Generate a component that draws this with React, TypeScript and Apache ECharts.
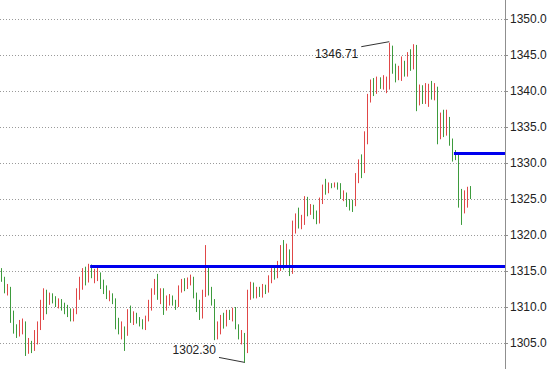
import { useEffect, useRef } from "react";
import * as echarts from "echarts";

// OHLC values (one entry per bar)
const opens = [
  1315.0, 1313.8, 1312.0, 1312.6, 1308.6, 1306.8, 1306.2, 1306.5, 1307.8, 1304.2,
  1305.0, 1304.2, 1305.0, 1307.0, 1308.5, 1312.0, 1310.5, 1311.6, 1311.2, 1310.4,
  1310.8, 1310.0, 1309.6, 1309.3, 1308.3, 1309.2, 1311.2, 1312.6, 1315.2, 1313.6,
  1315.6, 1314.4, 1314.0, 1314.6, 1313.2, 1312.6, 1311.5, 1311.7, 1311.0, 1307.6,
  1306.0, 1307.0, 1306.2, 1309.0, 1307.8, 1308.8, 1308.2, 1307.8, 1307.0, 1308.2,
  1309.8, 1312.0, 1314.2, 1311.8, 1312.4, 1309.8, 1310.6, 1311.2, 1310.6, 1310.2,
  1312.5, 1313.4, 1312.8, 1313.8, 1314.0, 1311.6, 1310.4, 1308.6, 1311.8, 1314.8,
  1312.3, 1310.9, 1306.0, 1306.5, 1308.2, 1307.5, 1308.8, 1308.5, 1309.6, 1307.2,
  1305.3, 1306.0, 1304.0, 1312.2, 1313.0, 1311.8, 1312.4, 1311.8, 1312.6, 1312.3,
  1313.8, 1314.8, 1314.2, 1315.2, 1318.8, 1316.0, 1317.8, 1315.0, 1320.5, 1323.2,
  1321.5, 1321.8, 1325.0, 1323.2, 1323.8, 1323.0, 1321.8, 1324.6, 1327.4, 1326.2,
  1326.9, 1326.8, 1327.0, 1326.9, 1325.5, 1325.6, 1324.5, 1324.6, 1324.3, 1327.6,
  1329.8, 1329.0, 1333.0, 1338.6, 1341.4, 1339.8, 1341.5, 1340.5, 1340.0, 1340.5,
  1345.8, 1343.2, 1342.0, 1341.8, 1343.6, 1342.4, 1344.6, 1343.4, 1346.0, 1338.4,
  1340.5, 1338.6, 1339.0, 1340.5, 1339.0, 1340.4, 1333.8, 1336.2, 1334.0, 1336.0,
  1333.0, 1331.6, 1331.0, 1325.6, 1323.2, 1324.0, 1326.2,
];
const closes = [
  1313.8, 1312.2, 1312.9, 1308.5, 1306.8, 1306.0, 1307.9, 1308.0, 1303.8, 1305.2,
  1304.0, 1306.5, 1307.6, 1310.5, 1312.2, 1309.4, 1311.8, 1310.8, 1310.3, 1310.9,
  1309.9, 1309.4, 1308.9, 1308.4, 1309.5, 1312.3, 1313.8, 1315.0, 1313.3, 1315.6,
  1314.3, 1315.0, 1315.2, 1312.8, 1312.3, 1311.5, 1311.9, 1310.8, 1307.3, 1306.6,
  1307.5, 1304.5, 1309.2, 1308.0, 1309.0, 1308.2, 1307.7, 1307.2, 1308.4, 1310.5,
  1312.2, 1313.2, 1311.5, 1312.2, 1309.3, 1311.2, 1311.5, 1310.6, 1309.9, 1312.6,
  1313.5, 1312.6, 1313.8, 1314.2, 1311.6, 1309.8, 1308.6, 1312.0, 1314.6, 1312.0,
  1310.6, 1305.8, 1306.8, 1308.4, 1307.4, 1309.0, 1308.4, 1309.3, 1307.4, 1306.0,
  1306.4, 1304.5, 1312.0, 1312.8, 1311.6, 1312.4, 1311.9, 1312.7, 1312.1, 1314.0,
  1315.0, 1314.2, 1315.8, 1318.2, 1315.6, 1318.3, 1315.0, 1321.5, 1322.6, 1321.3,
  1322.2, 1324.8, 1323.0, 1323.8, 1322.7, 1321.9, 1324.8, 1326.6, 1326.0, 1326.9,
  1326.8, 1327.0, 1326.6, 1325.3, 1325.8, 1324.3, 1324.0, 1323.6, 1328.2, 1330.0,
  1328.6, 1333.8, 1338.6, 1340.8, 1339.8, 1341.4, 1340.7, 1341.6, 1341.6, 1346.2,
  1343.0, 1341.8, 1342.8, 1344.2, 1342.6, 1345.0, 1343.4, 1346.2, 1338.0, 1340.4,
  1338.6, 1340.6, 1340.8, 1339.2, 1340.6, 1333.5, 1336.3, 1334.2, 1336.6, 1332.8,
  1330.6, 1330.8, 1324.5, 1322.0, 1325.8, 1326.3, 1325.2,
];
const lows = [
  1313.5, 1311.9, 1311.6, 1307.8, 1306.3, 1305.7, 1305.9, 1306.2, 1303.2, 1303.5,
  1303.6, 1303.9, 1304.8, 1306.8, 1308.2, 1309.0, 1310.3, 1310.5, 1310.0, 1309.8,
  1309.5, 1309.0, 1308.6, 1308.0, 1308.0, 1309.0, 1311.0, 1312.4, 1313.0, 1313.4,
  1314.0, 1313.3, 1313.6, 1312.5, 1311.8, 1311.1, 1310.8, 1310.4, 1306.9, 1306.2,
  1305.5, 1303.9, 1306.0, 1307.8, 1307.5, 1307.7, 1307.3, 1306.9, 1306.8, 1308.0,
  1309.5, 1311.7, 1311.0, 1310.4, 1308.9, 1309.5, 1310.2, 1310.2, 1309.6, 1310.0,
  1312.0, 1312.2, 1312.5, 1313.0, 1311.2, 1309.3, 1308.2, 1308.4, 1311.4, 1311.6,
  1310.2, 1305.4, 1305.5, 1306.2, 1307.0, 1307.3, 1308.2, 1308.0, 1306.9, 1305.5,
  1304.8, 1302.3, 1303.6, 1311.0, 1311.2, 1311.2, 1311.4, 1311.3, 1311.8, 1312.0,
  1313.3, 1313.8, 1314.0, 1315.0, 1315.2, 1315.6, 1314.3, 1314.6, 1320.2, 1320.9,
  1320.8, 1321.4, 1322.6, 1322.8, 1322.2, 1321.5, 1321.6, 1324.3, 1325.6, 1325.8,
  1326.5, 1326.6, 1326.3, 1325.0, 1324.7, 1323.9, 1323.4, 1323.2, 1324.0, 1327.2,
  1327.9, 1328.6, 1332.6, 1338.4, 1339.3, 1339.6, 1340.3, 1340.2, 1339.7, 1340.2,
  1342.4, 1341.2, 1341.5, 1341.4, 1342.0, 1342.0, 1342.8, 1343.0, 1337.2, 1338.0,
  1338.2, 1338.2, 1337.8, 1338.8, 1338.7, 1332.6, 1333.3, 1333.6, 1333.8, 1332.4,
  1330.2, 1330.4, 1323.8, 1321.4, 1323.0, 1323.8, 1325.0,
];
const highs = [
  1315.4, 1314.2, 1313.2, 1312.8, 1309.5, 1307.6, 1308.2, 1308.4, 1308.0, 1305.7,
  1305.3, 1306.8, 1308.0, 1311.0, 1312.6, 1312.4, 1312.0, 1311.9, 1311.5, 1311.2,
  1311.1, 1310.6, 1310.3, 1309.8, 1309.8, 1312.6, 1314.2, 1315.4, 1315.6, 1316.0,
  1315.9, 1315.3, 1315.5, 1314.8, 1313.8, 1313.0, 1312.3, 1311.9, 1311.2, 1308.5,
  1308.0, 1307.3, 1309.7, 1310.2, 1309.4, 1309.2, 1308.6, 1308.3, 1308.8, 1311.0,
  1312.6, 1313.9, 1314.6, 1312.6, 1312.6, 1311.6, 1311.8, 1311.6, 1311.0, 1313.0,
  1313.9, 1314.0, 1314.1, 1314.5, 1314.2, 1312.0, 1311.0, 1312.4, 1318.6, 1315.5,
  1312.8, 1311.1, 1308.0, 1308.9, 1309.2, 1309.6, 1309.6, 1309.9, 1310.0, 1307.6,
  1306.8, 1306.4, 1312.4, 1313.5, 1313.4, 1312.8, 1312.8, 1313.2, 1313.1, 1314.4,
  1315.4, 1315.6, 1316.4, 1318.6, 1319.3, 1318.8, 1318.0, 1322.0, 1323.0, 1323.8,
  1322.8, 1325.4, 1325.3, 1324.3, 1324.2, 1323.4, 1325.2, 1327.0, 1327.8, 1327.3,
  1327.2, 1327.3, 1327.3, 1327.2, 1326.2, 1325.9, 1325.0, 1324.9, 1328.6, 1330.5,
  1331.2, 1334.4, 1339.6, 1341.6, 1341.8, 1342.0, 1341.9, 1342.2, 1342.0, 1346.71,
  1346.3, 1343.8, 1343.5, 1344.8, 1344.2, 1345.4, 1345.8, 1346.5, 1346.4, 1340.9,
  1340.8, 1341.1, 1341.0, 1341.4, 1341.1, 1340.6, 1337.0, 1337.4, 1337.4, 1336.4,
  1333.4, 1331.8, 1331.2, 1326.4, 1326.2, 1326.7, 1326.8,
];

// horizontal levels (blue lines) and the bar index where each starts
const levelValues = [1315.65, 1331.4];
const levelStarts = [30, 151];

// visible price range of the panel and tick step
const priceMin = 1301.39;
const priceMax = 1352.64;
const tickStep = 5;

// number of bar slots on the time axis (empty slots on the right)
const SLOT_COUNT = 168;

export default function App() {
  const ref = useRef<HTMLDivElement>(null);

  useEffect(() => {
    document.body.style.margin = "0";
    const chart = echarts.init(ref.current!, null, { renderer: "svg" });
    const categories = Array.from({ length: SLOT_COUNT }, (_, i) => String(i));
    const data = opens.map((o, i) => [o, closes[i], lows[i], highs[i]]);
    const up = "#e04848";
    const down = "#3d9b3d";

    chart.setOption({
      animation: false,
      backgroundColor: "#ffffff",
      grid: { left: 0, right: 45, top: 0, bottom: 0 },
      xAxis: {
        type: "category",
        data: categories,
        show: false,
        boundaryGap: true,
      },
      yAxis: {
        type: "value",
        position: "right",
        min: priceMin,
        max: priceMax,
        splitNumber: 10,
        minInterval: tickStep,
        maxInterval: tickStep,
        axisLine: { show: true, lineStyle: { color: "#8f8f8f", width: 1 } },
        axisTick: { show: true, length: 3, lineStyle: { color: "#8f8f8f" } },
        axisLabel: {
          formatter: (v: number) => v.toFixed(1),
          color: "#222222",
          fontSize: 12,
          fontFamily: "Liberation Sans",
          margin: 5,
          padding: [5, 0, 0, 0],
          showMinLabel: false,
          showMaxLabel: false,
        },
        splitLine: {
          show: true,
          showMinLine: false,
          showMaxLine: false,
          lineStyle: { color: "#9a9a9a", width: 1, type: [1, 2] },
        },
      },
      series: [
        {
          type: "candlestick",
          data,
          barWidth: 1,
          itemStyle: {
            color: up,
            color0: down,
            borderColor: up,
            borderColor0: down,
            borderWidth: 1,
          },
          markLine: {
            silent: true,
            symbol: ["none", "none"],
            label: { show: false },
            lineStyle: { color: "#0000ee", width: 3, type: "solid", cap: "square" },
            data: levelValues.map((v, k) => [
              { coord: [String(levelStarts[k]), v] },
              { coord: [String(SLOT_COUNT - 1), v] },
            ]),
          },
        },
      ],
    });

    // annotations at the highest high and lowest low
    const peakVal = Math.max(...highs);
    const troughVal = Math.min(...lows);
    const peakIdx = highs.indexOf(peakVal);
    const troughIdx = lows.indexOf(troughVal);
    const p = chart.convertToPixel({ gridIndex: 0 }, [peakIdx, peakVal]) as number[];
    const t = chart.convertToPixel({ gridIndex: 0 }, [troughIdx, troughVal]) as number[];
    const font = '12px "Liberation Sans"';

    chart.setOption({
      graphic: [
        {
          type: "line",
          shape: { x1: p[0] - 28, y1: p[1] + 4, x2: p[0], y2: p[1] - 1 },
          style: { stroke: "#333333", lineWidth: 1 },
          silent: true,
        },
        {
          type: "text",
          x: p[0] - 31,
          y: p[1] + 11,
          style: {
            text: peakVal.toFixed(2),
            font,
            fill: "#222222",
            align: "right",
            verticalAlign: "middle",
            textAlign: "right",
            textVerticalAlign: "middle",
          },
          silent: true,
        },
        {
          type: "line",
          shape: { x1: t[0] - 26, y1: t[1] - 5, x2: t[0], y2: t[1] },
          style: { stroke: "#333333", lineWidth: 1 },
          silent: true,
        },
        {
          type: "text",
          x: t[0] - 29,
          y: t[1] - 12,
          style: {
            text: troughVal.toFixed(2),
            font,
            fill: "#222222",
            align: "right",
            verticalAlign: "middle",
            textAlign: "right",
            textVerticalAlign: "middle",
          },
          silent: true,
        },
      ],
    });

    return () => {
      chart.dispose();
    };
  }, []);

  return (
    <div
      ref={ref}
      style={{ position: "absolute", left: 0, top: 0, width: 550, height: 369 }}
    />
  );
}
